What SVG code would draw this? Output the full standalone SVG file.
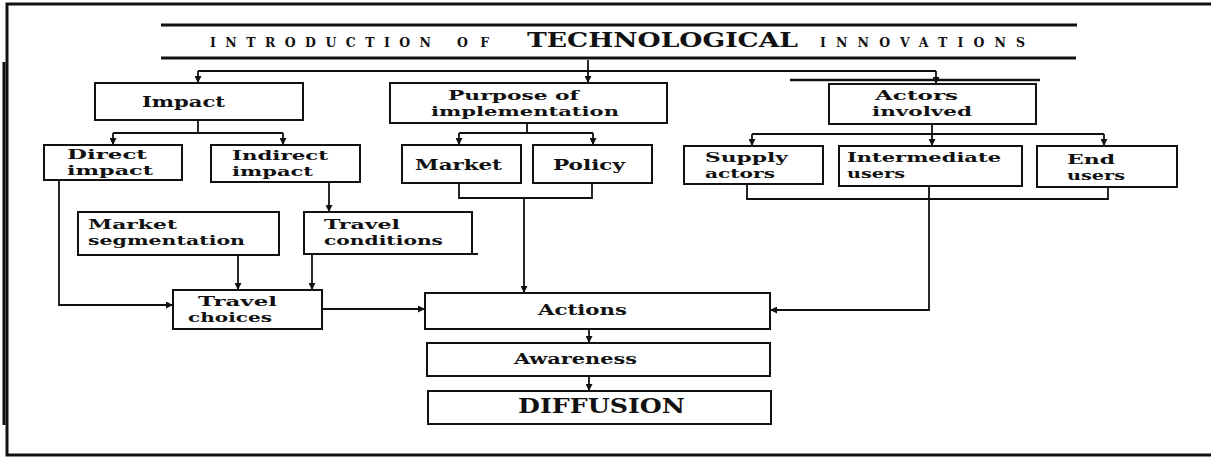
<svg xmlns="http://www.w3.org/2000/svg" width="1211" height="457" viewBox="0 0 1211 457">
  <style>
    .box { fill: #fff; stroke: #111; stroke-width: 2; }
    .ln { fill: none; stroke: #111; stroke-width: 1.8; }
    .frame { fill: none; stroke: #111; stroke-width: 3; }
    text { font-family: "DejaVu Serif", "Liberation Serif", serif; font-weight: bold; fill: #111; }
    .lbl { font-size: 13.5px; }
    .one { font-size: 14.5px; }
    .sp { font-size: 12.5px; }
    .big { font-size: 20px; }
  </style>
  <defs>
    <marker id="arr" viewBox="0 0 10 10" refX="10" refY="5" markerWidth="7" markerHeight="7" markerUnits="userSpaceOnUse" orient="auto">
      <path d="M0,0 L10,5 L0,10 Z" fill="#111"/>
    </marker>
  </defs>

  <!-- outer frame (top, left, bottom) -->
  <g id="frame">
    <path class="frame" d="M1211,4 H7 V455 H1211"/>
    <path d="M4,62 V425" stroke="#111" stroke-width="3"/>
  </g>

  <!-- title banner -->
  <g id="title">
    <line x1="161" y1="25" x2="1077" y2="25" stroke="#111" stroke-width="3"/>
    <line x1="161" y1="58" x2="1076" y2="58" stroke="#111" stroke-width="3"/>
    <text class="sp" x="210" y="47" textLength="221" lengthAdjust="spacing">INTRODUCTION</text>
    <text class="sp" x="457" y="47" textLength="32" lengthAdjust="spacing">OF</text>
    <text class="big" x="527" y="47" textLength="271" lengthAdjust="spacingAndGlyphs">TECHNOLOGICAL</text>
    <text class="sp" x="820" y="47" textLength="205" lengthAdjust="spacing">INNOVATIONS</text>
  </g>

  <!-- connectors -->
  <g id="connectors">
    <!-- title to the three branches -->
    <path class="ln" d="M198,71 H936"/>
    <path class="ln" d="M198,71 V83" marker-end="url(#arr)"/>
    <path class="ln" d="M588,60 V83" marker-end="url(#arr)"/>
    <path class="ln" d="M936,71 V84" marker-end="url(#arr)"/>
    <line x1="790" y1="80" x2="1040" y2="80" stroke="#111" stroke-width="2.5"/>

    <!-- Impact split -->
    <path class="ln" d="M198,120 V133 M113,133 H283"/>
    <path class="ln" d="M113,133 V145" marker-end="url(#arr)"/>
    <path class="ln" d="M283,133 V145" marker-end="url(#arr)"/>

    <!-- Purpose split -->
    <path class="ln" d="M527,123 V133 M459,133 H593"/>
    <path class="ln" d="M459,133 V145" marker-end="url(#arr)"/>
    <path class="ln" d="M593,133 V145" marker-end="url(#arr)"/>

    <!-- Actors split -->
    <path class="ln" d="M932,124 V134 M752,134 H1104"/>
    <path class="ln" d="M752,134 V146" marker-end="url(#arr)"/>
    <path class="ln" d="M932,134 V146" marker-end="url(#arr)"/>
    <path class="ln" d="M1104,134 V146" marker-end="url(#arr)"/>

    <!-- Market/Policy merge to Actions -->
    <path class="ln" d="M459,183 V198 H592 V183"/>
    <path class="ln" d="M524,198 V293" marker-end="url(#arr)"/>

    <!-- actor groups merge to Actions -->
    <path class="ln" d="M747,184 V199 H1108 V187"/>
    <path class="ln" d="M929,186 V310 H770" marker-end="url(#arr)"/>

    <!-- impact chain -->
    <path class="ln" d="M329,182 V212" marker-end="url(#arr)"/>
    <path class="ln" d="M238,255 V290" marker-end="url(#arr)"/>
    <path class="ln" d="M312,254 V290" marker-end="url(#arr)"/>
    <path class="ln" d="M59,180 V305 H173" marker-end="url(#arr)"/>
    <path class="ln" d="M322,309 H425" marker-end="url(#arr)"/>

    <!-- main chain -->
    <path class="ln" d="M589,329 V343" marker-end="url(#arr)"/>
    <path class="ln" d="M589,376 V391" marker-end="url(#arr)"/>
  </g>

  <g id="impact">
    <rect class="box" x="95" y="83" width="208" height="37"/>
    <text class="one" x="142" y="107" textLength="83" lengthAdjust="spacingAndGlyphs">Impact</text>
  </g>
  <g id="direct-impact">
    <rect class="box" x="44" y="145" width="138" height="35"/>
    <text class="lbl" x="67" y="159" textLength="80" lengthAdjust="spacingAndGlyphs">Direct</text>
    <text class="lbl" x="67" y="175" textLength="86" lengthAdjust="spacingAndGlyphs">impact</text>
  </g>
  <g id="indirect-impact">
    <rect class="box" x="211" y="145" width="149" height="37"/>
    <text class="lbl" x="232" y="160" textLength="96" lengthAdjust="spacingAndGlyphs">Indirect</text>
    <text class="lbl" x="232" y="176" textLength="81" lengthAdjust="spacingAndGlyphs">impact</text>
  </g>
  <g id="market-segmentation">
    <rect class="box" x="78" y="212" width="201" height="43"/>
    <text class="lbl" x="88" y="229" textLength="89" lengthAdjust="spacingAndGlyphs">Market</text>
    <text class="lbl" x="88" y="245" textLength="157" lengthAdjust="spacingAndGlyphs">segmentation</text>
  </g>
  <g id="travel-conditions">
    <rect class="box" x="304" y="212" width="168" height="42"/>
    <line x1="472" y1="254" x2="478" y2="254" stroke="#111" stroke-width="2"/>
    <text class="lbl" x="324" y="229" textLength="76" lengthAdjust="spacingAndGlyphs">Travel</text>
    <text class="lbl" x="324" y="245" textLength="119" lengthAdjust="spacingAndGlyphs">conditions</text>
  </g>
  <g id="travel-choices">
    <rect class="box" x="173" y="290" width="149" height="39"/>
    <text class="lbl" x="198" y="306" textLength="79" lengthAdjust="spacingAndGlyphs">Travel</text>
    <text class="lbl" x="188" y="322" textLength="84" lengthAdjust="spacingAndGlyphs">choices</text>
  </g>
  <g id="purpose">
    <rect class="box" x="390" y="83" width="277" height="40"/>
    <text class="lbl" x="448" y="100" textLength="131" lengthAdjust="spacingAndGlyphs">Purpose of</text>
    <text class="lbl" x="431" y="116" textLength="188" lengthAdjust="spacingAndGlyphs">implementation</text>
  </g>
  <g id="market">
    <rect class="box" x="402" y="145" width="119" height="38"/>
    <text class="one" x="415" y="170" textLength="87" lengthAdjust="spacingAndGlyphs">Market</text>
  </g>
  <g id="policy">
    <rect class="box" x="533" y="145" width="119" height="38"/>
    <text class="one" x="553" y="170" textLength="72" lengthAdjust="spacingAndGlyphs">Policy</text>
  </g>
  <g id="actors-involved">
    <rect class="box" x="829" y="84" width="207" height="40"/>
    <text class="lbl" x="875" y="100" textLength="83" lengthAdjust="spacingAndGlyphs">Actors</text>
    <text class="lbl" x="872" y="116" textLength="100" lengthAdjust="spacingAndGlyphs">involved</text>
  </g>
  <g id="supply-actors">
    <rect class="box" x="684" y="146" width="139" height="38"/>
    <text class="lbl" x="705" y="162" textLength="83" lengthAdjust="spacingAndGlyphs">Supply</text>
    <text class="lbl" x="705" y="178" textLength="70" lengthAdjust="spacingAndGlyphs">actors</text>
  </g>
  <g id="intermediate-users">
    <rect class="box" x="839" y="146" width="183" height="40"/>
    <text class="lbl" x="847" y="162" textLength="154" lengthAdjust="spacingAndGlyphs">Intermediate</text>
    <text class="lbl" x="847" y="178" textLength="58" lengthAdjust="spacingAndGlyphs">users</text>
  </g>
  <g id="end-users">
    <rect class="box" x="1037" y="146" width="140" height="41"/>
    <text class="lbl" x="1067" y="164" textLength="48" lengthAdjust="spacingAndGlyphs">End</text>
    <text class="lbl" x="1067" y="180" textLength="58" lengthAdjust="spacingAndGlyphs">users</text>
  </g>
  <g id="actions">
    <rect class="box" x="425" y="293" width="345" height="36"/>
    <text class="one" x="538" y="315" textLength="89" lengthAdjust="spacingAndGlyphs">Actions</text>
  </g>
  <g id="awareness">
    <rect class="box" x="427" y="343" width="343" height="33"/>
    <text class="one" x="514" y="364" textLength="123" lengthAdjust="spacingAndGlyphs">Awareness</text>
  </g>
  <g id="diffusion">
    <rect class="box" x="428" y="391" width="343" height="33"/>
    <text class="big" x="518" y="413" textLength="167" lengthAdjust="spacingAndGlyphs">DIFFUSION</text>
  </g>
</svg>
